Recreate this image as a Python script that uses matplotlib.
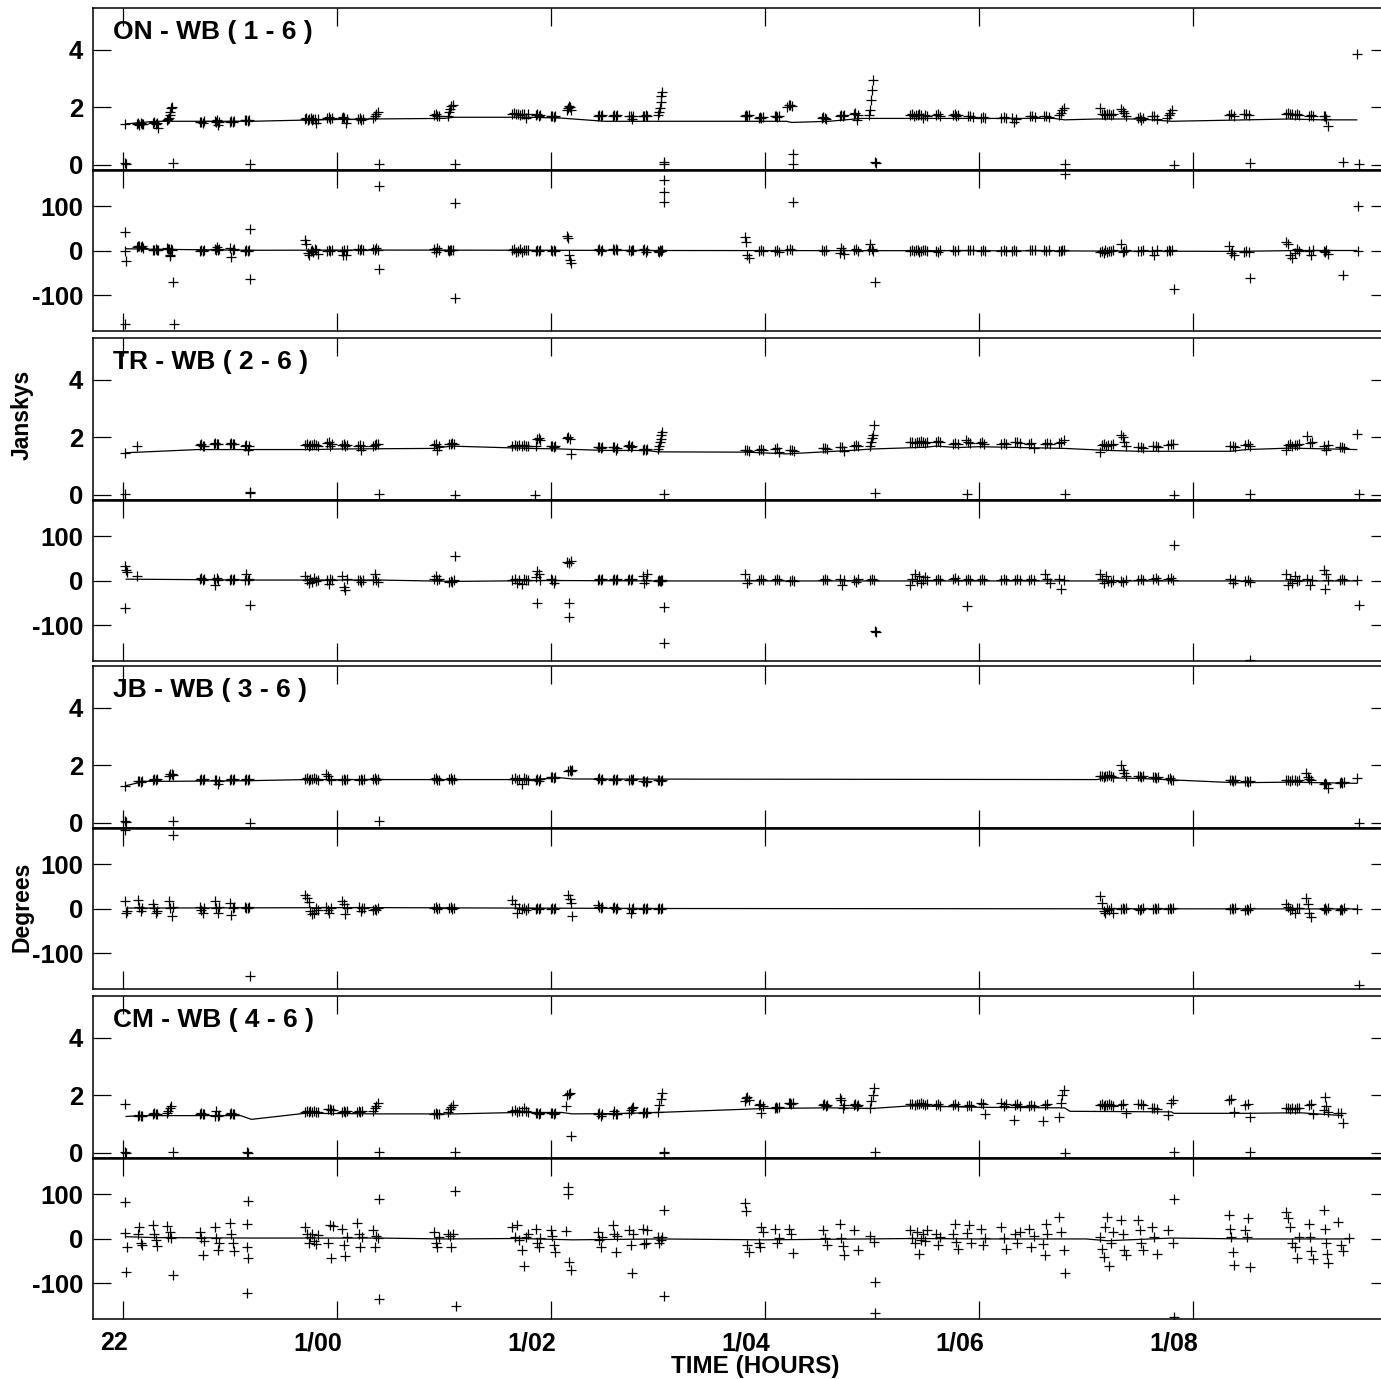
import numpy as np
import matplotlib
matplotlib.use('Agg')
import matplotlib.pyplot as plt
from matplotlib.transforms import ScaledTranslation

plt.rcParams['font.family'] = ['Liberation Sans', 'DejaVu Sans']
plt.rcParams['font.weight'] = 'bold'
plt.rcParams['axes.unicode_minus'] = False

# ---------------- axis / label data ----------------
tick_hours = [22, 24, 26, 28, 30, 32]
tick_labels = ['22', '1/00', '1/02', '1/04', '1/06', '1/08']
amp_ticks = [0, 2, 4]
phase_ticks = [-100, 0, 100]
panel_titles = ['ON - WB ( 1 - 6 )', 'TR - WB ( 2 - 6 )', 'JB - WB ( 3 - 6 )', 'CM - WB ( 4 - 6 )']

# ---------------- ON - WB ----------------
ON_scans = [
    (22.02, 22.04), (22.13, 22.19), (22.28, 22.33), (22.41, 22.46), (22.72, 22.76), (22.86, 22.90), (23.00, 23.04), (23.14, 23.18),
    (23.70, 23.82), (23.91, 23.95), (24.05, 24.09), (24.20, 24.24), (24.34, 24.38), (24.91, 24.95), (25.04, 25.08),
    (25.64, 25.79), (25.86, 25.90), (26.00, 26.04), (26.15, 26.19), (26.44, 26.48), (26.58, 26.62), (26.73, 26.77), (26.86, 26.90), (27.00, 27.04),
    (27.81, 27.85), (27.94, 27.98), (28.09, 28.13), (28.21, 28.25), (28.53, 28.57), (28.70, 28.74), (28.83, 28.87), (28.97, 29.01),
    (29.36, 29.51), (29.60, 29.64), (29.76, 29.80), (29.90, 29.94), (30.02, 30.06), (30.21, 30.25), (30.31, 30.35), (30.48, 30.52), (30.61, 30.65), (30.75, 30.79),
    (31.13, 31.25), (31.33, 31.37), (31.49, 31.53), (31.62, 31.66), (31.76, 31.80), (32.34, 32.38), (32.48, 32.52), (32.87, 32.99), (33.08, 33.12), (33.22, 33.26)]
ON_amp = [
    [1.43], [1.42, 1.45, 1.40, 1.46, 1.43, 1.44], [1.45, 1.48, 1.43, 1.46, 1.30], [1.55, 1.60, 1.65, 1.75, 1.85, 1.97, 2.00], [1.48, 1.50, 1.46, 1.52], [1.52, 1.48, 1.55, 1.40, 1.50], [1.50, 1.53, 1.48, 1.52], [1.55, 1.57, 1.53, 1.58],
    [1.59, 1.62, 1.58, 1.60, 1.63, 1.57, 1.61, 1.59, 1.45, 1.60], [1.63, 1.66, 1.60, 1.64], [1.65, 1.68, 1.62, 1.45, 1.60], [1.59, 1.62, 1.57, 1.60], [1.65, 1.72, 1.78, 1.86], [1.74, 1.76, 1.72, 1.70], [1.72, 1.85, 1.95, 2.05, 2.10],
    [1.77, 1.80, 1.76, 1.78, 1.74, 1.79, 1.77, 1.63, 1.76], [1.74, 1.76, 1.72, 1.75], [1.69, 1.72, 1.67, 1.70], [1.90, 1.98, 2.05, 2.00, 1.92], [1.72, 1.75, 1.70, 1.73], [1.72, 1.74, 1.70, 1.73], [1.69, 1.72, 1.60, 1.70], [1.72, 1.70, 1.74, 1.71], [1.74, 1.85, 1.98, 2.20, 2.40, 2.55],
    [1.72, 1.75, 1.70, 1.73], [1.65, 1.68, 1.63, 1.66], [1.69, 1.71, 1.66, 1.70], [2.02, 2.07, 2.10, 2.05], [1.65, 1.67, 1.63, 1.60], [1.72, 1.75, 1.70, 1.73], [1.77, 1.80, 1.57, 1.75], [1.74, 1.90, 2.25, 2.60, 2.97],
    [1.74, 1.76, 1.72, 1.75, 1.73, 1.77, 1.74, 1.65, 1.75, 1.72], [1.74, 1.77, 1.72], [1.74, 1.76, 1.72, 1.75], [1.69, 1.72, 1.67], [1.65, 1.67, 1.63], [1.65, 1.68, 1.62], [1.65, 1.51, 1.60], [1.69, 1.72, 1.67], [1.69, 1.71, 1.67], [1.74, 1.82, 1.90, 1.98],
    [1.98, 1.77, 1.79, 1.75, 1.78, 1.76, 1.74, 1.77], [1.95, 1.88, 1.80, 1.72], [1.65, 1.67, 1.55, 1.63], [1.69, 1.72, 1.60], [1.65, 1.75, 1.82, 1.90], [1.74, 1.77, 1.72], [1.77, 1.79, 1.75], [1.77, 1.80, 1.76, 1.78, 1.75, 1.77, 1.74], [1.72, 1.74, 1.70], [1.69, 1.72, 1.60, 1.37]]
ON_phase = [
    [0], [8, 10, 12, 9, 11, 7], [3, 2, 4, 1, 3], [6, 4, 5, -9, -12, 5, 3], [0, 2, -1, 3], [5, 3, 8, 2, 4], [6, -13, 2, 4], [0, 2, -1, 1],
    [25, 15, -5, -9, 0, 2, -3, 4, 1, -6], [0, 2, -1, 1], [0, -8, 2, -10, 3], [4, 2, 5, 3], [4, 2, 6, 3], [4, -2, 6, 2], [2, 0, 3, 1, 2],
    [2, 4, -3, 0, 5, -2, 3, 1, 2], [0, 2, -1, 1], [2, 0, 3, -1], [33, 28, -9, -20, -28], [2, 4, 0, 3], [4, 2, 5, 3], [2, 0, 3, 1], [2, 4, -2, 1], [0, -2, 1, -1, 0, 2],
    [32, 20, -10, -15], [0, 2, -1], [0, 2, -2], [2, 4, 1], [2, 0, 3], [-5, 6, 2, -7], [2, 4, 0], [2, 15, 4, 0],
    [0, 2, -1, 1, 3, -2, 0, 1, 2, -1], [0, -3, 1], [2, 0, 3], [2, 1, 3], [0, 1, -1], [0, 1, -1], [0, 1, -1], [2, 1, 3], [2, 0, 3], [0, -1, 1, 2],
    [-2, 0, -4, 1, -3, 0, -1, 2], [15, -2, 0, 1], [0, -1, 1], [0, -9, 1], [0, 1, -1, 2], [10, -5, 0, -9], [-2, 0, -3], [21, 15, -10, -15, -5, 5, 0], [0, -9, 2], [0, -3, 2, -6]]
ON_amp_extra_t = [22.02, 22.03, 22.47, 23.19, 24.39, 25.10, 27.06, 27.06, 28.26, 28.26, 29.03, 29.04, 30.80, 31.82, 32.53, 33.40, 33.55, 33.53]
ON_amp_extra_v = [0.08, 0.02, 0.06, 0.02, 0.05, 0.02, 0.12, 0.02, 0.38, 0.02, 0.09, 0.07, 0.02, 0.00, 0.06, 0.09, 0.05, 3.86]
ON_ph_extra_t = [22.02, 22.03, 22.02, 22.47, 22.48, 23.19, 23.19, 24.39, 24.39, 25.10, 25.10, 27.06, 27.06, 27.06, 28.26, 29.03, 30.80, 31.82, 32.53, 33.40, 33.54, 33.54]
ON_ph_extra_v = [43, -22, -165, -69, -165, 50, -62, 146, -41, 107, -105, 160, 133, 111, 111, -69, 172, -86, -60, -54, 102, 0]
ON_model_t = [22.03, 22.3, 23.2, 23.8, 24.3, 25.0, 25.1, 25.8, 26.1, 26.5, 27.0, 28.2, 28.25, 28.6, 28.9, 30.7, 30.8, 31.1, 31.5, 31.8, 32.5, 32.9, 33.2, 33.53]
ON_model_amp = [1.43, 1.52, 1.52, 1.57, 1.60, 1.62, 1.66, 1.66, 1.63, 1.52, 1.52, 1.52, 1.48, 1.52, 1.62, 1.62, 1.57, 1.60, 1.60, 1.52, 1.57, 1.60, 1.57, 1.57]
ON_model_pt = [22.03, 22.2, 23.2, 24.4, 26.0, 27.0, 30.0, 32.4, 33.0, 33.53]
ON_model_ph = [5, 4, 1.5, 2, 1.5, 1, 0.5, -1, 1, 1]

# ---------------- TR - WB ----------------
TR_scans = [
    (22.02, 22.04), (22.13, 22.15), (22.72, 22.76), (22.85, 22.89), (23.00, 23.04), (23.14, 23.18),
    (23.70, 23.82), (23.91, 23.95), (24.05, 24.09), (24.20, 24.24), (24.34, 24.38), (24.91, 24.95), (25.05, 25.09),
    (25.64, 25.79), (25.86, 25.90), (26.00, 26.04), (26.15, 26.19), (26.44, 26.48), (26.58, 26.62), (26.72, 26.76), (26.86, 26.90), (27.00, 27.04),
    (27.81, 27.85), (27.94, 27.98), (28.09, 28.13), (28.23, 28.27), (28.54, 28.58), (28.70, 28.74), (28.83, 28.87), (28.98, 29.02),
    (29.36, 29.51), (29.60, 29.64), (29.76, 29.80), (29.88, 29.92), (30.01, 30.05), (30.21, 30.25), (30.34, 30.38), (30.47, 30.51), (30.62, 30.66), (30.75, 30.79),
    (31.13, 31.25), (31.33, 31.37), (31.49, 31.53), (31.63, 31.67), (31.77, 31.81), (32.35, 32.39), (32.49, 32.53), (32.87, 32.99), (33.07, 33.11), (33.22, 33.26), (33.37, 33.41)]
TR_amp = [
    [1.47], [1.70], [1.74, 1.77, 1.72, 1.70], [1.78, 1.80, 1.76, 1.79], [1.78, 1.80, 1.76, 1.77], [1.72, 1.74, 1.55, 1.70],
    [1.74, 1.76, 1.72, 1.75, 1.73, 1.77, 1.74, 1.72], [1.81, 1.84, 1.72, 1.76], [1.74, 1.76, 1.72, 1.75], [1.72, 1.74, 1.55, 1.70], [1.70, 1.73, 1.76, 1.78], [1.74, 1.76, 1.55, 1.72], [1.76, 1.78, 1.80, 1.77],
    [1.72, 1.74, 1.70, 1.73, 1.71, 1.74, 1.72, 1.70], [1.72, 1.95, 1.98, 1.92], [1.70, 1.72, 1.68, 1.71], [1.98, 2.02, 1.95, 1.43], [1.66, 1.68, 1.64, 1.67], [1.66, 1.68, 1.55, 1.65], [1.72, 1.74, 1.68, 1.70], [1.58, 1.60, 1.56, 1.59], [1.60, 1.70, 1.85, 1.95, 2.10, 2.20],
    [1.55, 1.57, 1.53], [1.58, 1.60, 1.56], [1.60, 1.62, 1.50], [1.55, 1.57, 1.53], [1.63, 1.65, 1.61], [1.66, 1.68, 1.52], [1.72, 1.74, 1.70], [1.72, 1.85, 1.98, 2.10, 2.45],
    [1.84, 1.86, 1.82, 1.85, 1.83, 1.87, 1.84, 1.82, 1.86], [1.86, 1.88, 1.84], [1.78, 1.80, 1.76], [1.90, 1.84, 1.80], [1.81, 1.83, 1.79], [1.78, 1.80, 1.76], [1.84, 1.86, 1.82], [1.78, 1.80, 1.65], [1.78, 1.80, 1.76], [1.80, 1.86, 1.92],
    [1.51, 1.74, 1.76, 1.72, 1.75, 1.73, 1.77], [2.10, 2.00, 1.85, 1.72], [1.66, 1.68, 1.64], [1.70, 1.72, 1.68], [1.74, 1.76, 1.78], [1.70, 1.72, 1.68], [1.74, 1.76, 1.72], [1.55, 1.74, 1.76, 1.72, 1.75, 1.73, 1.77], [2.05, 1.81, 1.84], [1.72, 1.55, 1.74], [1.66, 1.68, 1.64]]
TR_phase = [
    [34, 25, 20], [12], [4, 6, 2, 5], [4, -9, 6, 3], [3, 5, 2, 4], [3, 16, 2, 5],
    [10, 2, -5, 4, -3, 6, 0, 3], [3, -7, 5, 2], [12, -14, -20, 4], [1, 3, -2, 2], [1, 16, 3, -2], [4, 10, 2, 5], [-2, 0, -3, 1],
    [3, 5, -4, 2, -6, 4, 1, 3], [8, 23, 15, 3], [4, 2, -5, 3], [42, 40, 45], [3, 5, 1, 4], [3, 5, 1, 4], [3, 5, 1, 4], [10, -5, 3, 15], [0, 2, -1, 1, 0, 3],
    [15, -5, 2], [3, 5, 1], [3, 5, 1], [0, 2, -1], [3, 5, 1], [5, -10, 3], [3, -2, 5], [3, 5, 1],
    [-8, 5, 15, 0, 10, -5, 3, 8, 2], [3, 5, 1], [4, 6, 2], [3, 5, 1], [3, 5, 1], [3, 5, 1], [3, 5, 1], [3, 5, 1], [15, 5, -5], [4, -18, 2],
    [15, 5, -5, 10, 0, -3, 3], [0, -2, 3], [3, 5, 1], [4, 6, 2], [4, 6, 2], [4, -5, 2], [0, 2, -2], [15, -10, 5, -5, 10, 0, 2], [5, -8, 3], [25, -18, 15, 3], [3, 5, 1]]
TR_amp_extra_t = [22.02, 23.19, 23.19, 24.39, 25.10, 25.85, 27.06, 29.03, 29.89, 30.80, 31.82, 32.53, 33.55, 33.53]
TR_amp_extra_v = [0.04, 0.06, 0.10, 0.04, 0.00, 0.00, 0.04, 0.07, 0.04, 0.03, 0.00, 0.03, 0.03, 2.13]
TR_ph_extra_t = [22.02, 23.19, 25.10, 25.87, 26.17, 26.17, 27.06, 27.06, 29.03, 29.04, 29.89, 31.82, 32.53, 33.55, 33.53]
TR_ph_extra_v = [-61, -54, 55, -49, -49, -81, -59, -140, -113, -115, -57, 81, -178, -55, 3]
TR_model_t = [22.03, 22.7, 23.8, 24.0, 24.9, 25.07, 25.8, 26.1, 26.5, 26.9, 27.0, 27.83, 28.2, 28.8, 29.0, 29.5, 29.6, 29.8, 30.0, 30.8, 31.2, 31.5, 32.35, 32.5, 32.9, 33.3, 33.53]
TR_model_amp = [1.47, 1.58, 1.58, 1.60, 1.62, 1.70, 1.62, 1.60, 1.55, 1.55, 1.50, 1.49, 1.43, 1.55, 1.60, 1.66, 1.70, 1.65, 1.68, 1.62, 1.55, 1.52, 1.52, 1.58, 1.63, 1.60, 1.58]
TR_model_pt = [22.03, 23.2, 24.4, 25.1, 26.0, 27.0, 33.53]
TR_model_ph = [4, 2, 2, -1, 1, 0, 0]

# ---------------- JB - WB ----------------
JB_scans = [
    (22.02, 22.04), (22.14, 22.18), (22.28, 22.32), (22.43, 22.47), (22.72, 22.76), (22.86, 22.90), (23.00, 23.04), (23.14, 23.18),
    (23.70, 23.82), (23.90, 23.94), (24.05, 24.09), (24.21, 24.25), (24.34, 24.38), (24.91, 24.95), (25.05, 25.09),
    (25.64, 25.79), (25.86, 25.90), (26.00, 26.04), (26.16, 26.20), (26.44, 26.48), (26.58, 26.62), (26.73, 26.77), (26.86, 26.90), (27.00, 27.04),
    (31.13, 31.25), (31.33, 31.37), (31.49, 31.53), (31.63, 31.67), (31.77, 31.81), (32.35, 32.39), (32.49, 32.53), (32.87, 32.99), (33.06, 33.10), (33.22, 33.26), (33.37, 33.41)]
JB_amp = [
    [1.30], [1.45, 1.47, 1.43, 1.46], [1.51, 1.53, 1.49, 1.52], [1.62, 1.69, 1.72, 1.66], [1.51, 1.53, 1.49, 1.52], [1.49, 1.51, 1.34, 1.47], [1.51, 1.53, 1.49, 1.52], [1.51, 1.53, 1.49, 1.52],
    [1.53, 1.55, 1.51, 1.54, 1.52, 1.56, 1.53, 1.51], [1.72, 1.65, 1.53, 1.51], [1.51, 1.53, 1.49, 1.52], [1.51, 1.53, 1.49, 1.52], [1.53, 1.55, 1.51, 1.54], [1.53, 1.55, 1.51, 1.50], [1.53, 1.55, 1.51, 1.54],
    [1.53, 1.55, 1.51, 1.54, 1.37, 1.56, 1.53, 1.51], [1.51, 1.53, 1.45, 1.52], [1.59, 1.61, 1.57, 1.60], [1.80, 1.86, 1.82, 1.84], [1.53, 1.55, 1.51, 1.54], [1.51, 1.53, 1.49, 1.52], [1.51, 1.53, 1.49, 1.52], [1.45, 1.47, 1.43, 1.46], [1.49, 1.51, 1.47, 1.50],
    [1.63, 1.65, 1.61, 1.64, 1.62, 1.66, 1.63, 1.60], [2.03, 1.86, 1.74, 1.65], [1.63, 1.65, 1.61, 1.64], [1.59, 1.61, 1.57, 1.60], [1.53, 1.55, 1.51, 1.50], [1.49, 1.51, 1.47, 1.50], [1.45, 1.47, 1.43, 1.46], [1.49, 1.51, 1.47, 1.50, 1.48, 1.45, 1.49], [1.74, 1.60, 1.52, 1.49], [1.37, 1.39, 1.35, 1.22], [1.40, 1.42, 1.38, 1.41]]
JB_phase = [
    [17, -9, -5], [21, 5, -5, 2], [10, 2, -9, -5], [17, 3, -16, 5], [5, -3, -9, 2], [17, 2, -9, 4], [13, -13, 2, 5], [5, 3, 2, 4],
    [32, 25, 15, -5, -12, -8, 2, -3], [4, -3, -9, 2], [17, 10, -12, 2], [4, -5, 2, 3], [-2, 0, -3, 1], [2, 4, 0, 3], [2, 4, 0, 3],
    [20, 10, -9, 2, 0, 3, -2, 1], [0, 2, -1, 1], [0, 2, -1, 1], [32, 22, 13, -16], [8, 4, 2, 5], [2, 4, 0, 3], [2, -9, 0, 3], [0, 2, -1, 1], [0, 2, -1, 1],
    [28, 13, -5, -10, 0, -3, 2, -8], [0, 2, -1, 1], [0, -3, -1, 1], [0, 2, -1, 1], [0, 2, -1, 1], [0, 3, -1, 1], [-2, 0, -3, 1], [10, 5, -3, 0, -8, 2, 1], [25, 10, -10, -17], [0, 2, -3, 1], [-2, 0, -3, 1]]
JB_amp_extra_t = [22.02, 22.03, 22.47, 23.19, 24.39, 33.55, 33.53]
JB_amp_extra_v = [0.08, 0.02, 0.06, 0.00, 0.06, 0.00, 1.57]
JB_ph_extra_t = [22.02, 22.47, 23.19, 33.55, 33.53]
JB_ph_extra_v = [178, 167, -150, -170, 0]
JB_model_t = [22.03, 22.2, 22.45, 23.16, 23.7, 25.8, 26.1, 26.2, 31.1, 31.2, 31.5, 31.8, 32.4, 32.9, 33.53]
JB_model_amp = [1.30, 1.45, 1.45, 1.47, 1.51, 1.51, 1.57, 1.53, 1.51, 1.57, 1.55, 1.50, 1.40, 1.42, 1.38]
JB_model_pt = [22.03, 24.3, 27.0, 33.53]
JB_model_ph = [2, 3, 1, 0]

# ---------------- CM - WB ----------------
CM_scans = [
    (22.02, 22.04), (22.14, 22.18), (22.28, 22.32), (22.41, 22.45), (22.72, 22.76), (22.86, 22.90), (23.00, 23.04),
    (23.70, 23.82), (23.92, 23.96), (24.05, 24.09), (24.19, 24.23), (24.34, 24.38), (24.91, 24.95), (25.04, 25.08),
    (25.64, 25.79), (25.86, 25.90), (26.00, 26.04), (26.14, 26.19), (26.44, 26.48), (26.58, 26.62), (26.73, 26.77), (26.86, 26.90), (27.00, 27.04),
    (27.81, 27.85), (27.94, 27.98), (28.09, 28.13), (28.22, 28.26), (28.54, 28.58), (28.70, 28.74), (28.83, 28.87), (28.98, 29.02),
    (29.36, 29.51), (29.60, 29.64), (29.76, 29.80), (29.89, 29.93), (30.02, 30.06), (30.21, 30.25), (30.34, 30.38), (30.47, 30.51), (30.60, 30.64), (30.75, 30.79),
    (31.13, 31.25), (31.33, 31.37), (31.49, 31.53), (31.62, 31.66), (31.77, 31.81), (32.34, 32.38), (32.49, 32.53), (32.87, 32.99), (33.08, 33.12), (33.22, 33.26), (33.36, 33.40)]
CM_amp = [
    [1.71], [1.29, 1.31, 1.27, 1.30], [1.36, 1.38, 1.34, 1.37], [1.40, 1.47, 1.55, 1.62], [1.36, 1.38, 1.34, 1.37], [1.29, 1.45, 1.27, 1.32], [1.36, 1.38, 1.34, 1.37],
    [1.44, 1.46, 1.42, 1.45, 1.43, 1.47, 1.44, 1.42], [1.52, 1.54, 1.48, 1.50], [1.44, 1.46, 1.42, 1.45], [1.44, 1.46, 1.42, 1.45], [1.45, 1.55, 1.65, 1.75], [1.36, 1.38, 1.34, 1.37], [1.44, 1.52, 1.60, 1.67],
    [1.46, 1.48, 1.44, 1.47, 1.45, 1.55, 1.46, 1.44], [1.38, 1.40, 1.36, 1.39], [1.38, 1.40, 1.36, 1.39], [1.64, 2.00, 2.06, 2.10, 0.58], [1.36, 1.38, 1.30, 1.34], [1.36, 1.45, 1.34, 1.37], [1.40, 1.50, 1.55, 1.60], [1.40, 1.42, 1.38, 1.41], [1.44, 1.67, 1.88, 2.10],
    [1.80, 1.91, 1.95, 1.85], [1.67, 1.69, 1.38, 1.65], [1.58, 1.60, 1.56, 1.59], [1.73, 1.75, 1.71, 1.74], [1.67, 1.69, 1.65, 1.68], [1.91, 1.85, 1.55, 1.67], [1.67, 1.69, 1.65, 1.68], [1.55, 1.80, 2.00, 2.26],
    [1.70, 1.72, 1.68, 1.71, 1.69, 1.73, 1.70, 1.68, 1.71], [1.67, 1.69, 1.65], [1.67, 1.69, 1.65], [1.64, 1.66, 1.62], [1.73, 1.70, 1.36], [1.73, 1.64, 1.70], [1.67, 1.69, 1.65], [1.64, 1.66, 1.62], [1.12, 1.67, 1.69], [1.24, 1.73, 2.00, 2.20],
    [1.67, 1.69, 1.65, 1.68, 1.66, 1.70, 1.67, 1.65], [1.67, 1.69, 1.38], [1.70, 1.72, 1.68], [1.55, 1.57, 1.53], [1.32, 1.75, 1.85], [1.85, 1.88, 1.44], [1.67, 1.69, 1.26], [1.55, 1.57, 1.53, 1.56, 1.54, 1.58, 1.55], [1.67, 1.69, 1.34], [1.50, 1.96, 1.62, 1.42], [1.38, 1.40, 1.05]]
CM_phase = [
    [13, -18], [12, 27, -10, -14], [31, 10, -3, -16], [28, 4, 16, 2], [16, 2, -37, -5], [27, 2, -25, -8], [36, 12, -10, -27],
    [27, 10, -9, 5, 12, -5, -12, 8], [-10, 31, -42, 28], [23, -14, -39, 5], [36, 10, -19, 5], [19, -18, 6, 2], [16, -9, -18, 5], [10, 6, -19, 12],
    [27, 5, 31, -3, -25, -61, 4, 10], [23, -10, -19, 3], [19, 6, -14, -29], [17, -51, -70], [16, -3, -19, 5], [31, 10, -29, 6], [19, -14, -76, 10], [23, -12, -8, 20], [5, -10, -2, 4],
    [81, 62, -14, -29], [-10, -18, 27, 16], [23, -10, 3], [23, 10, -31], [19, 3, -14], [34, 3, -16, -37], [19, -25], [6, -7],
    [19, 3, -10, 15, -33, -2, 10, -5, 20], [10, -14, 4], [12, 33, -7, -22], [14, 31, -9], [23, -14, 3], [27, 3, -22], [10, -10, 15], [23, -19, 6], [-12, -37, 33, 12], [49, 16, -25],
    [5, -22, -40, 27, 49, -61, -10, 15], [43, 10, -25, -37], [43, 20, -10, -25], [27, 5, -34], [19, -10], [53, 23, 5, -29, -59], [19, 5, 48, -64], [60, 46, 27, -10, -18, -42, 5], [34, 5, -27, -46], [64, 23, -9, -34, -55], [38, -14, -27]]
CM_amp_extra_t = [22.02, 22.03, 22.47, 23.16, 23.17, 24.39, 25.10, 27.06, 27.06, 29.03, 30.80, 31.82, 32.53, 30.33]
CM_amp_extra_v = [0.04, 0.00, 0.03, 0.04, 0.00, 0.03, 0.04, 0.05, 0.00, 0.03, 0.00, 0.03, 0.02, 1.15]
CM_ph_extra_t = [22.02, 22.03, 22.47, 23.16, 23.16, 23.17, 23.17, 23.16, 24.39, 24.39, 25.10, 25.11, 26.16, 26.16, 27.06, 27.06, 29.03, 29.03, 30.80, 31.82, 31.82, 33.46]
CM_ph_extra_v = [83, -74, -81, 34, -18, -42, 85, -122, 90, -134, 107, -151, 116, 100, 66, -128, -96, -166, -76, 89, -176, 3]
CM_model_t = [22.03, 22.15, 23.1, 23.2, 23.7, 24.4, 25.1, 25.7, 26.1, 26.2, 26.6, 27.0, 27.8, 28.0, 28.6, 29.0, 29.36, 30.0, 30.8, 30.85, 31.8, 31.82, 32.5, 33.0, 33.2, 33.4]
CM_model_amp = [1.27, 1.30, 1.30, 1.17, 1.38, 1.36, 1.36, 1.41, 1.41, 1.36, 1.37, 1.41, 1.52, 1.55, 1.57, 1.55, 1.64, 1.59, 1.57, 1.45, 1.43, 1.38, 1.38, 1.40, 1.35, 1.30]
CM_model_pt = [22.03, 22.3, 23.2, 24.4, 25.0, 25.7, 26.2, 27.0, 28.0, 29.4, 30.0, 31.0, 31.2, 31.8, 32.5, 33.46]
CM_model_ph = [5, 3, 2, 2, 0, 1, -2, 0, -2, 1, 0, 0, -4, 2, 0, 0]

panels = [
    (ON_scans, ON_amp, ON_phase, ON_amp_extra_t, ON_amp_extra_v, ON_ph_extra_t, ON_ph_extra_v, ON_model_t, ON_model_amp, ON_model_pt, ON_model_ph),
    (TR_scans, TR_amp, TR_phase, TR_amp_extra_t, TR_amp_extra_v, TR_ph_extra_t, TR_ph_extra_v, TR_model_t, TR_model_amp, TR_model_pt, TR_model_ph),
    (JB_scans, JB_amp, JB_phase, JB_amp_extra_t, JB_amp_extra_v, JB_ph_extra_t, JB_ph_extra_v, JB_model_t, JB_model_amp, JB_model_pt, JB_model_ph),
    (CM_scans, CM_amp, CM_phase, CM_amp_extra_t, CM_amp_extra_v, CM_ph_extra_t, CM_ph_extra_v, CM_model_t, CM_model_amp, CM_model_pt, CM_model_ph),
]

# ---------------- layout ----------------
W, H = 1381, 1379
fig = plt.figure(figsize=(W / 100, H / 100), dpi=100)
x_left, x_right = 93, 1389
panel_tops = [8, 338, 666, 996]
AMP_H, PH_H = 162, 161
XLIM = (21.72, 33.832)
AMP_LIM = (-0.174, 5.46)
PH_LIM = (-180, 182)

mk = dict(linestyle='none', marker='+', color='black', markersize=7, markeredgewidth=0.9)


def plot_scans(ax, scans, vals):
    for (t0, t1), v in zip(scans, vals):
        t = np.linspace(t0, t1, len(v))
        ax.plot(t, v, **mk)


def style(ax, yticks, bottom_labels=False):
    ax.set_xlim(*XLIM)
    ax.set_xticks(tick_hours)
    ax.set_yticks(yticks)
    ax.tick_params(axis='both', which='major', direction='in', length=13, width=0.9,
                   top=True, right=True, labelsize=18.5, pad=7, colors='black')
    ax.tick_params(axis='x', labelbottom=bottom_labels, pad=9)
    ax.tick_params(axis='y', labelright=False)
    for s in ax.spines.values():
        s.set_linewidth(1.1)
    for lab in ax.get_yticklabels():
        lab.set_fontweight('bold')


for k, (scans, amp, ph, aet, aev, pet, pev, mt, mamp, mpt, mph) in enumerate(panels):
    y0 = panel_tops[k]
    ax_a = fig.add_axes([x_left / W, 1 - (y0 + AMP_H) / H, (x_right - x_left) / W, AMP_H / H])
    ax_p = fig.add_axes([x_left / W, 1 - (y0 + AMP_H + PH_H) / H, (x_right - x_left) / W, PH_H / H])

    ax_a.plot(mt, mamp, '-', color='black', lw=0.9)
    plot_scans(ax_a, scans, amp)
    ax_a.plot(aet, aev, **mk)
    ax_a.set_ylim(*AMP_LIM)
    style(ax_a, amp_ticks)
    ax_a.spines['bottom'].set_linewidth(1.8)
    ax_a.text(20 / (x_right - x_left), 1 - 31 / AMP_H, panel_titles[k], transform=ax_a.transAxes,
              fontsize=19, fontweight='bold', ha='left', va='baseline')

    ax_p.plot(mpt, mph, '-', color='black', lw=0.9)
    plot_scans(ax_p, scans, ph)
    ax_p.plot(pet, pev, **mk)
    ax_p.set_ylim(*PH_LIM)
    last = (k == len(panels) - 1)
    style(ax_p, phase_ticks, bottom_labels=last)
    ax_p.spines['top'].set_linewidth(1.8)
    if last:
        ax_p.set_xticklabels(tick_labels)
        off = ScaledTranslation(5 / 100, 0, fig.dpi_scale_trans)
        for lab in ax_p.get_xticklabels():
            lab.set_ha('right')
            lab.set_fontweight('bold')
            lab.set_fontsize(18)
            lab.set_transform(lab.get_transform() + off)

fig.text(22 / W, 1 - 415 / H, 'Janskys', rotation=90, ha='center', va='center', fontsize=16.5, fontweight='bold')
fig.text(22 / W, 1 - 907 / H, 'Degrees', rotation=90, ha='center', va='center', fontsize=16.5, fontweight='bold')
fig.text(755 / W, 1 - 1366 / H, 'TIME (HOURS)', ha='center', va='center', fontsize=17.5, fontweight='bold')

fig.savefig('out.png', dpi=100)
